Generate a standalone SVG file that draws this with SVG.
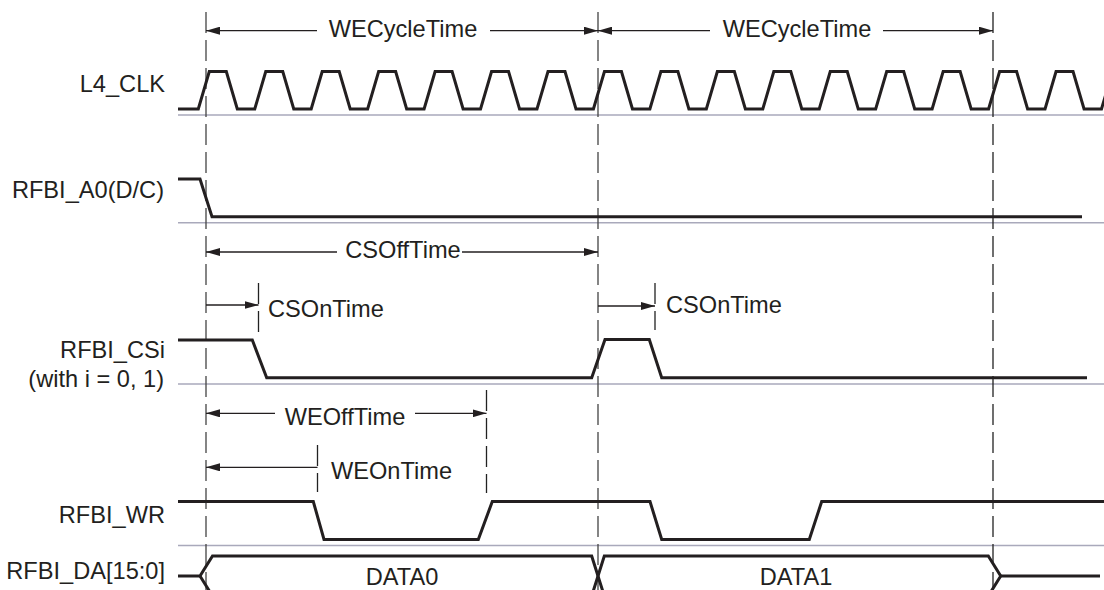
<svg xmlns="http://www.w3.org/2000/svg" width="1104" height="590" viewBox="0 0 1104 590">
<style>
.sig{fill:none;stroke:#231f20;stroke-width:3;stroke-linejoin:miter}
.base{fill:none;stroke:#a9a9bb;stroke-width:1.5}
.dash{fill:none;stroke:#444;stroke-width:1.3;stroke-dasharray:21 7}
.dashd{fill:none;stroke:#222;stroke-width:1.3;stroke-dasharray:21 7}
.arr{fill:none;stroke:#231f20;stroke-width:1.3}
.lbl{font-family:"Liberation Sans",Arial,sans-serif;font-size:23.6px;fill:#231f20}
.end{text-anchor:end}
.mid{text-anchor:middle}
</style>
<defs>
<marker id="ah" viewBox="0 0 14 8" refX="14" refY="4" markerWidth="14" markerHeight="8" markerUnits="userSpaceOnUse" orient="auto-start-reverse">
<path d="M0,0 L14,4 L0,8 Z" fill="#231f20"/>
</marker>
</defs>
<rect width="1104" height="590" fill="#fff"/>

<g id="baselines">
<line class="base" x1="178" y1="115" x2="1104" y2="115"/>
<line class="base" x1="178" y1="222.7" x2="1104" y2="222.7"/>
<line class="base" x1="178" y1="384" x2="1104" y2="384"/>
<line class="base" x1="178" y1="545.5" x2="1104" y2="545.5"/>
</g>

<g id="guides">
<line class="dash" x1="206" y1="12" x2="206" y2="590"/>
<line class="dash" x1="598" y1="12" x2="598" y2="590"/>
<line class="dashd" x1="993" y1="12" x2="993" y2="590"/>
<line class="dashd" x1="258.5" y1="283" x2="258.5" y2="332"/>
<line class="dashd" x1="655" y1="283" x2="655" y2="330"/>
<line class="dashd" x1="317.5" y1="445" x2="317.5" y2="492"/>
<line class="dashd" x1="486.5" y1="390" x2="486.5" y2="493"/>
</g>

<g id="labels">
<text class="lbl end" x="165" y="92">L4_CLK</text>
<text class="lbl end" x="164" y="198">RFBI_A0(D/C)</text>
<text class="lbl end" x="165" y="358">RFBI_CSi</text>
<text class="lbl end" x="164" y="387">(with i = 0, 1)</text>
<text class="lbl end" x="165" y="523">RFBI_WR</text>
<text class="lbl end" x="165" y="579">RFBI_DA[15:0]</text>
</g>

<g id="L4_CLK">
<path class="sig" d="M178,109 H198.3 l11,-37.5 h17 l11,37.5 h17.45 l11,-37.5 h17 l11,37.5 h17.45 l11,-37.5 h17 l11,37.5 h17.45 l11,-37.5 h17 l11,37.5 h17.45 l11,-37.5 h17 l11,37.5 h17.45 l11,-37.5 h17 l11,37.5 h17.45 l11,-37.5 h17 l11,37.5 h17.45 l11,-37.5 h17 l11,37.5 h17.45 l11,-37.5 h17 l11,37.5 h17.45 l11,-37.5 h17 l11,37.5 h17.45 l11,-37.5 h17 l11,37.5 h17.45 l11,-37.5 h17 l11,37.5 h17.45 l11,-37.5 h17 l11,37.5 h17.45 l11,-37.5 h17 l11,37.5 h17.45 l11,-37.5 h17 l11,37.5 h17.45 l11,-37.5 h17 l11,37.5 h17.45 l11,-37.5 h20"/>
</g>

<g id="RFBI_A0">
<path class="sig" d="M178,179 H200 L212,216.7 H1082"/>
</g>

<g id="RFBI_CSi">
<path class="sig" d="M178,340 H252.3 L266.7,377.7 H591.7 L605,339.5 H649.3 L661.7,377.7 H1087"/>
</g>

<g id="RFBI_WR">
<path class="sig" d="M178,501.5 H313.3 L324,539.5 H478.3 L492.3,501.5 H650 L661.7,539.5 H809.3 L821.7,501.5 H1104"/>
</g>

<g id="RFBI_DA">
<path class="sig" d="M178,576 H200 L212.5,556 H591.7 L604.3,596"/>
<path class="sig" d="M200,576 L212.5,596"/>
<path class="sig" d="M591.7,596 L604.3,556 H988.3 L1000.7,576 L988.3,596"/>
<path class="sig" d="M1000.7,576 H1100"/>
<text class="lbl mid" x="402" y="585">DATA0</text>
<text class="lbl mid" x="796" y="585">DATA1</text>
</g>

<g id="connectors">
<line class="arr" x1="317" y1="30.7" x2="206" y2="30.7" marker-end="url(#ah)"/>
<line class="arr" x1="490" y1="30.7" x2="598" y2="30.7" marker-end="url(#ah)"/>
<line class="arr" x1="710" y1="30.7" x2="598" y2="30.7" marker-end="url(#ah)"/>
<line class="arr" x1="883" y1="30.7" x2="993" y2="30.7" marker-end="url(#ah)"/>
<line class="arr" x1="337" y1="252" x2="206" y2="252" marker-end="url(#ah)"/>
<line class="arr" x1="462" y1="252" x2="598" y2="252" marker-end="url(#ah)"/>
<line class="arr" x1="206" y1="305" x2="258.5" y2="305" marker-end="url(#ah)"/>
<line class="arr" x1="598" y1="306" x2="655" y2="306" marker-end="url(#ah)"/>
<line class="arr" x1="275" y1="413.3" x2="206" y2="413.3" marker-end="url(#ah)"/>
<line class="arr" x1="415" y1="413.3" x2="486.5" y2="413.3" marker-end="url(#ah)"/>
<line class="arr" x1="317.5" y1="467.3" x2="206" y2="467.3" marker-end="url(#ah)"/>
<text class="lbl mid" x="403" y="37">WECycleTime</text>
<text class="lbl mid" x="797" y="37">WECycleTime</text>
<text class="lbl mid" x="403" y="258">CSOffTime</text>
<text class="lbl" x="268" y="317">CSOnTime</text>
<text class="lbl" x="666" y="313">CSOnTime</text>
<text class="lbl mid" x="345" y="425">WEOffTime</text>
<text class="lbl" x="331" y="479">WEOnTime</text>
</g>
</svg>
